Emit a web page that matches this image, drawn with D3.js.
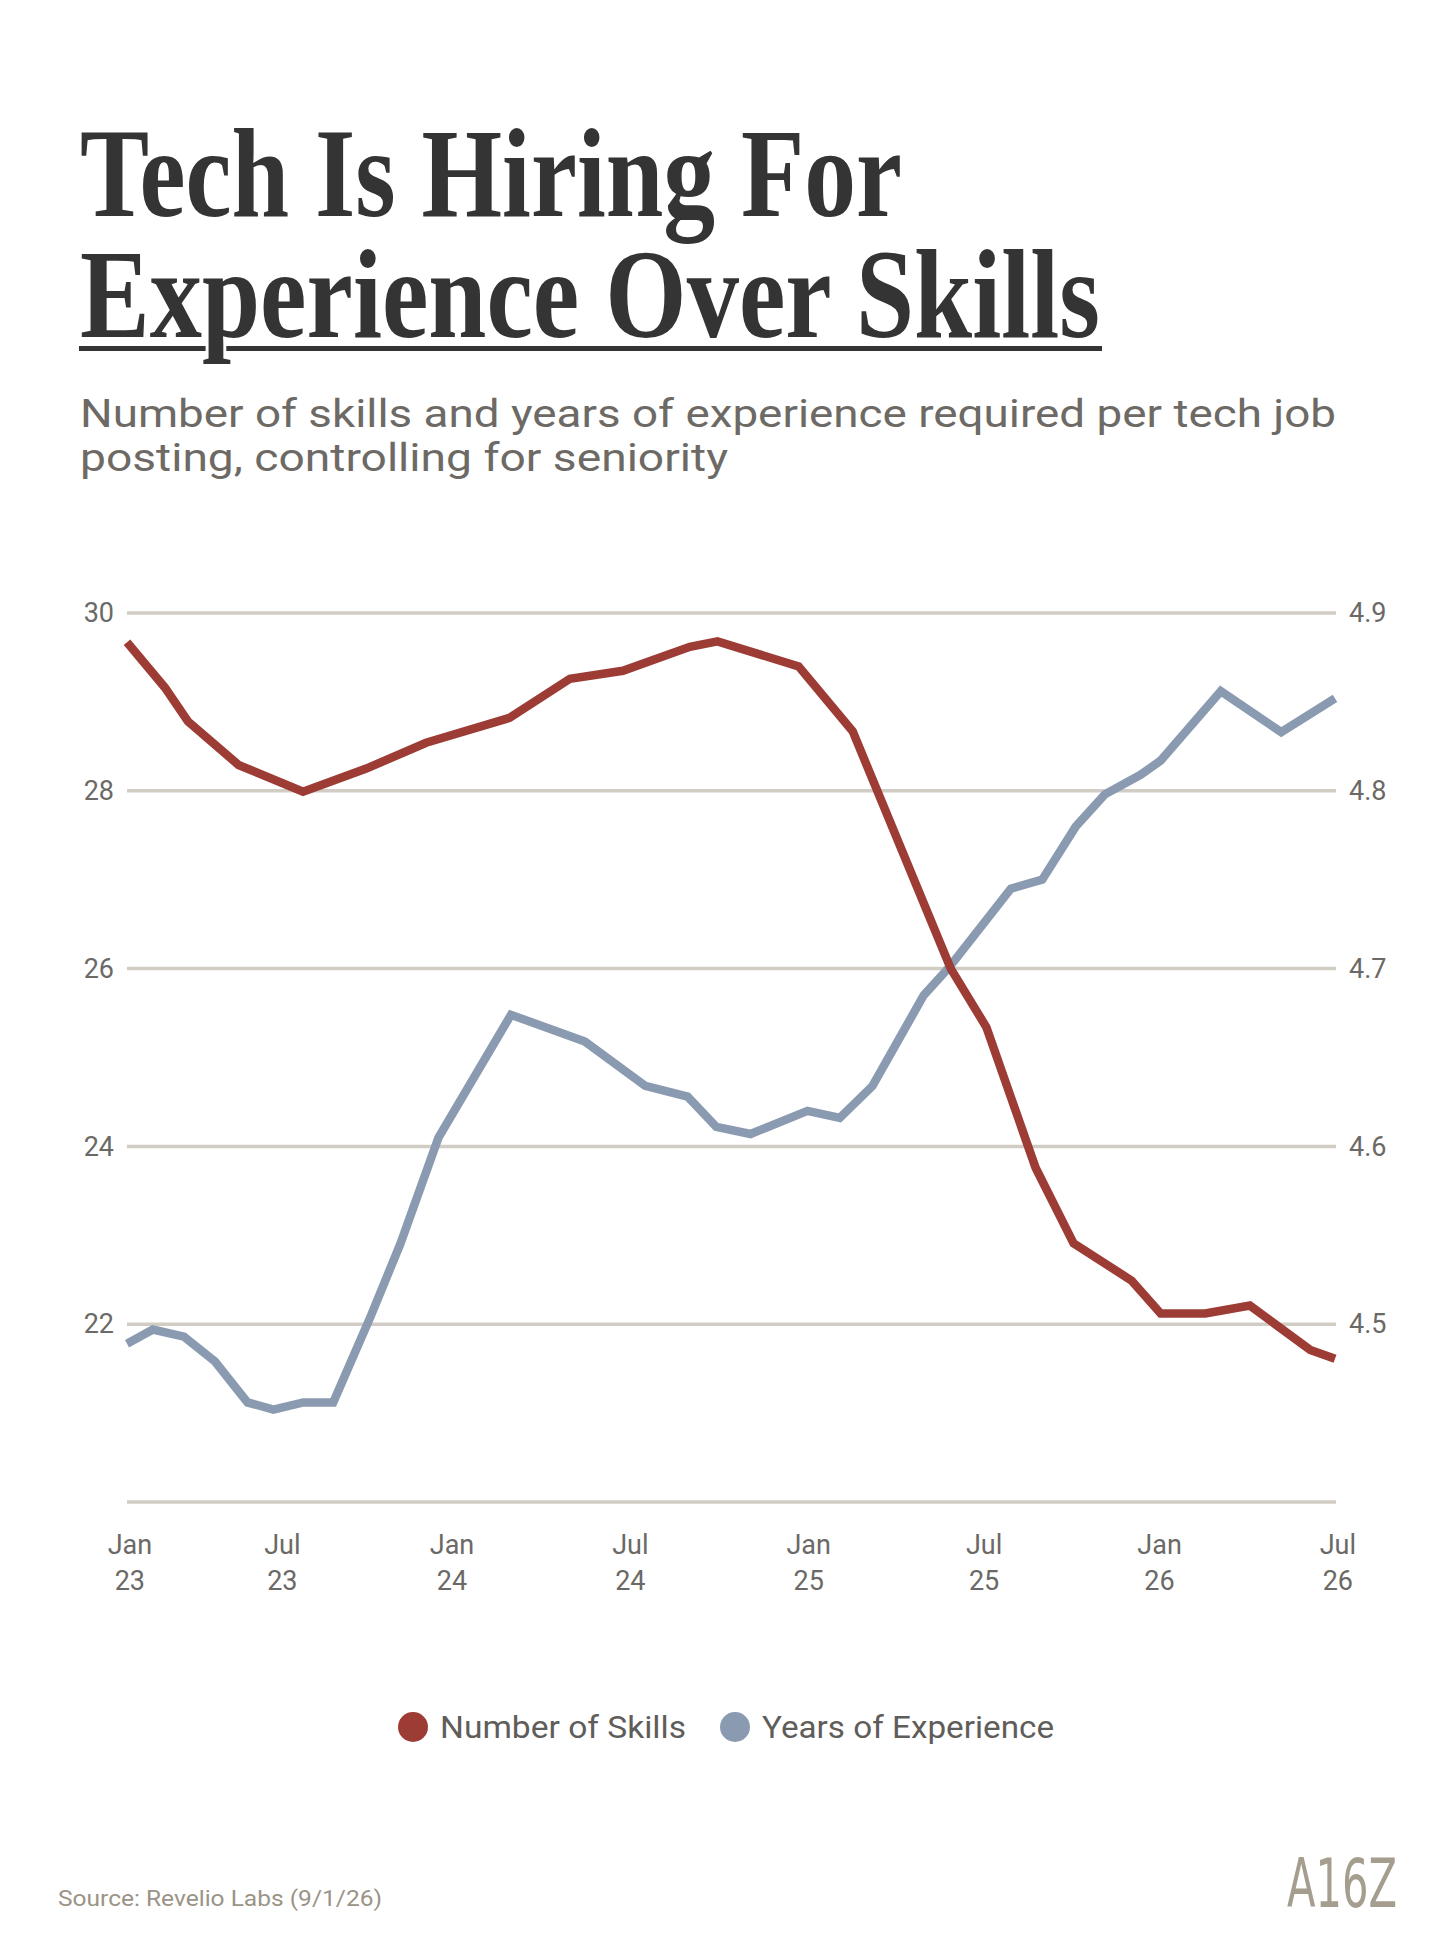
<!DOCTYPE html>
<html>
<head>
<meta charset="utf-8">
<script src="https://cdn.jsdelivr.net/npm/d3@7"></script>
<style>
  body { margin:0; background:#fff; }
  svg { display:block; }
</style>
</head>
<body>
<div id="chart-canvas"></div>
<script>
var svgW = 1456,
    svgH = 1941;

// months counted from Jan 23 (0) to Jul 26 (42)
var skillMonths = [0, 1.32, 2.12, 3.88, 6.12, 8.32, 10.4, 13.3, 15.4, 17.24, 19.57, 20.53, 23.35, 25.23, 28.64, 29.88, 31.59, 32.91, 34.93, 35.94, 37.49, 39.04, 41.14, 42];
var skillValues = [29.67, 29.16, 28.78, 28.29, 27.99, 28.25, 28.54, 28.82, 29.26, 29.35, 29.62, 29.68, 29.40, 28.67, 26.0, 25.34, 23.76, 22.91, 22.49, 22.12, 22.12, 22.21, 21.71, 21.61];

var expMonths = [0, 0.9, 1.98, 3.06, 4.19, 5.09, 6.13, 7.17, 8.46, 9.5, 10.83, 13.35, 15.92, 18.02, 19.49, 20.49, 21.68, 23.66, 24.78, 25.92, 27.7, 28.6, 30.73, 31.82, 32.99, 34.0, 35.24, 35.94, 38.03, 40.13, 42];
var expValues = [4.489, 4.497, 4.493, 4.479, 4.456, 4.452, 4.456, 4.456, 4.504, 4.545, 4.605, 4.674, 4.659, 4.634, 4.628, 4.611, 4.607, 4.620, 4.616, 4.634, 4.685, 4.701, 4.745, 4.750, 4.780, 4.798, 4.809, 4.817, 4.856, 4.833, 4.852];

var gridTicks = [30, 28, 26, 24, 22, 20];
var leftTicks = [30, 28, 26, 24, 22];
var rightTicks = [4.9, 4.8, 4.7, 4.6, 4.5];

var xTickMonths = [0.1, 5.4, 11.3, 17.5, 23.7, 29.8, 35.9, 42.1];
var xTickMonthLabels = ['Jan', 'Jul', 'Jan', 'Jul', 'Jan', 'Jul', 'Jan', 'Jul'];
var xTickYearLabels = ['23', '23', '24', '24', '25', '25', '26', '26'];

var seriesNames = ['Number of Skills', 'Years of Experience'];
var seriesColors = ['#9d3b35', '#8a9ab0'];

var sans = "Roboto, 'Liberation Sans', sans-serif";

var x = d3.scaleLinear().domain([0, 42]).range([127, 1335]),
    yLeft = d3.scaleLinear().domain([20, 30]).range([1502, 613]),
    yRight = d3.scaleLinear().domain([4.4, 4.9]).range([1502, 613]);

var svg = d3.select('#chart-canvas')
  .append('svg')
    .attr('width', svgW)
    .attr('height', svgH);

svg.append('rect')
  .attr('width', svgW)
  .attr('height', svgH)
  .attr('fill', '#ffffff');

// title
svg.append('rect')
  .attr('x', 79)
  .attr('y', 346)
  .attr('width', 1023)
  .attr('height', 5)
  .attr('fill', '#343434');

var title = svg.append('g')
  .attr('font-family', "'Liberation Serif', 'DejaVu Serif', serif")
  .attr('font-weight', 700)
  .attr('font-size', 126)
  .attr('fill', '#343434')
  .attr('stroke', '#ffffff')
  .attr('stroke-width', 7)
  .attr('paint-order', 'stroke');

title.append('text')
  .attr('x', 80).attr('y', 216)
  .attr('textLength', 822)
  .attr('lengthAdjust', 'spacingAndGlyphs')
  .text('Tech Is Hiring For');

title.append('text')
  .attr('x', 80).attr('y', 337)
  .attr('textLength', 1020)
  .attr('lengthAdjust', 'spacingAndGlyphs')
  .text('Experience Over Skills');

// subtitle
var sub = svg.append('g')
  .attr('font-family', sans)
  .attr('font-size', 38)
  .attr('fill', '#6d6a66');

sub.append('text')
  .attr('x', 80).attr('y', 427)
  .attr('textLength', 1256)
  .attr('lengthAdjust', 'spacingAndGlyphs')
  .text('Number of skills and years of experience required per tech job');

sub.append('text')
  .attr('x', 80).attr('y', 471)
  .attr('textLength', 648)
  .attr('lengthAdjust', 'spacingAndGlyphs')
  .text('posting, controlling for seniority');

// grid lines
svg.append('g')
  .attr('id', 'g_grid')
  .selectAll('line')
  .data(gridTicks)
  .enter()
  .append('line')
    .attr('x1', x(0))
    .attr('x2', x(42) + 1)
    .attr('y1', function(d){ return yLeft(d); })
    .attr('y2', function(d){ return yLeft(d); })
    .attr('stroke', '#d2cdc4')
    .attr('stroke-width', 3.5);

// left and right axes
var leftAxis = svg.append('g')
  .attr('transform', 'translate(114,0)')
  .call(d3.axisLeft(yLeft).tickValues(leftTicks).tickSize(0).tickPadding(0));

var rightAxis = svg.append('g')
  .attr('transform', 'translate(1349,0)')
  .call(d3.axisRight(yRight).tickValues(rightTicks).tickSize(0).tickPadding(0).tickFormat(d3.format('.1f')));

[leftAxis, rightAxis].forEach(function(a){
  a.select('.domain').remove();
  a.selectAll('text')
    .attr('font-family', sans)
    .attr('font-size', 27)
    .attr('fill', '#6b6966');
});

// x labels, two lines each
var xLabels = svg.append('g')
  .attr('id', 'g_xlabels')
  .attr('font-family', sans)
  .attr('font-size', 27)
  .attr('fill', '#6b6966')
  .attr('text-anchor', 'middle')
  .selectAll('text')
  .data(xTickMonths)
  .enter()
  .append('text');

xLabels.append('tspan')
  .attr('x', function(d){ return x(d); })
  .attr('y', 1554)
  .text(function(d, i){ return xTickMonthLabels[i]; });

xLabels.append('tspan')
  .attr('x', function(d){ return x(d); })
  .attr('y', 1590)
  .text(function(d, i){ return xTickYearLabels[i]; });

// lines
var skillData = skillMonths.map(function(m, i){ return {m:m, v:skillValues[i]}; });
var expData = expMonths.map(function(m, i){ return {m:m, v:expValues[i]}; });

var lineLeft = d3.line()
  .x(function(d){ return x(d.m); })
  .y(function(d){ return yLeft(d.v); });

var lineRight = d3.line()
  .x(function(d){ return x(d.m); })
  .y(function(d){ return yRight(d.v); });

svg.append('path')
  .datum(expData)
  .attr('d', lineRight)
  .attr('fill', 'none')
  .attr('stroke', seriesColors[1])
  .attr('stroke-width', 8.5);

svg.append('path')
  .datum(skillData)
  .attr('d', lineLeft)
  .attr('fill', 'none')
  .attr('stroke', seriesColors[0])
  .attr('stroke-width', 8.5);

// legend
var legendX = [413, 735],
    legendTextLen = [246, 292];

var legend = svg.append('g')
  .attr('id', 'g_legend')
  .selectAll('g')
  .data(seriesNames)
  .enter()
  .append('g')
    .attr('transform', function(d, i){ return 'translate(' + legendX[i] + ',1727)'; });

legend.append('circle')
  .attr('r', 15)
  .attr('fill', function(d, i){ return seriesColors[i]; });

legend.append('text')
  .attr('x', 27)
  .attr('dy', '0.35em')
  .attr('font-family', sans)
  .attr('font-size', 32)
  .attr('fill', '#5f5d5a')
  .attr('textLength', function(d, i){ return legendTextLen[i]; })
  .attr('lengthAdjust', 'spacingAndGlyphs')
  .text(function(d){ return d; });

// footer
svg.append('text')
  .attr('x', 58)
  .attr('y', 1906)
  .attr('font-family', sans)
  .attr('font-size', 22)
  .attr('fill', '#9a9387')
  .attr('textLength', 324)
  .attr('lengthAdjust', 'spacingAndGlyphs')
  .text('Source: Revelio Labs (9/1/26)');

svg.append('text')
  .attr('x', 1287)
  .attr('y', 1907)
  .attr('font-family', "'Liberation Sans Narrow', 'DejaVu Sans Condensed', sans-serif")
  .attr('font-size', 68)
  .attr('fill', '#a59d8d')
  .attr('textLength', 110)
  .attr('lengthAdjust', 'spacingAndGlyphs')
  .text('A16Z');
</script>
</body>
</html>
